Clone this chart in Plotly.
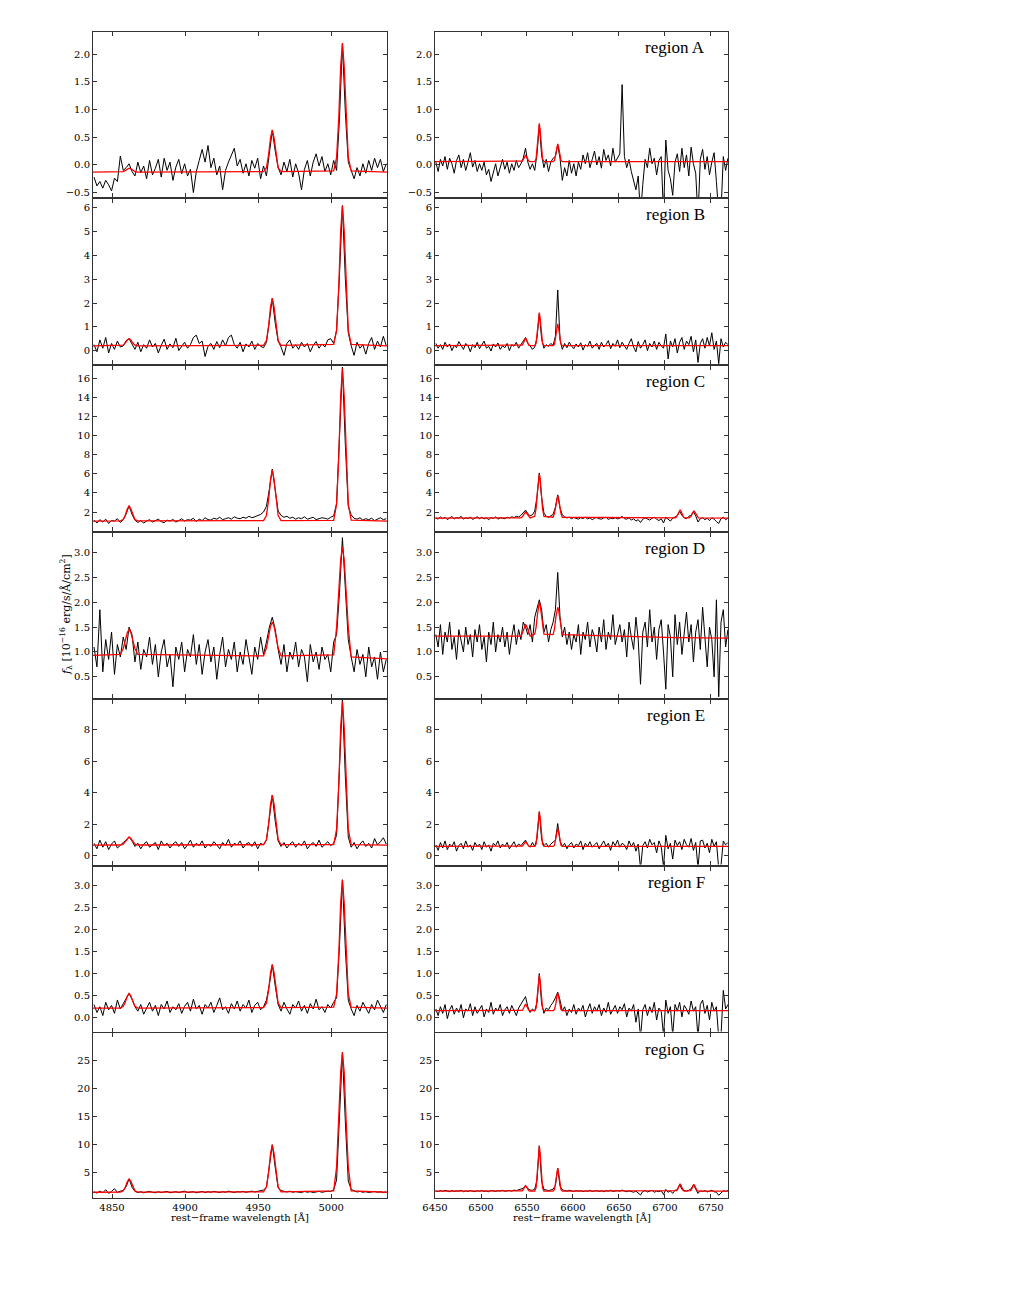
import plotly.graph_objects as go
from plotly.subplots import make_subplots

W, H = 1011, 1308
PAGE = 8  # the html body margin shifts the figure by this many pixels

# spectral pixel grids (first wavelength, step in Angstrom)
blue_start, blue_step = 4837.7, 2.0
red_start, red_step = 6450.9, 2.5

# wavelengths where the fitted model is sampled
model_wave_blue = [4837.0,
                   4855.7, 4857.7, 4859.2, 4860.5, 4861.7, 4862.9, 4864.2, 4865.7, 4867.7,
                   4953.7, 4955.7, 4957.2, 4958.5, 4959.7, 4960.9, 4962.2, 4963.7, 4965.7,
                   5001.7, 5003.7, 5005.2, 5006.5, 5007.7, 5008.9, 5010.2, 5011.7, 5013.7,
                   5038.2]
model_wave_red = [6450.0,
                  6543.4, 6544.9, 6546.4, 6547.4, 6548.4, 6549.4, 6550.4, 6551.9, 6553.4,
                  6558.4, 6559.9, 6561.4, 6562.4, 6563.4, 6564.4, 6565.4, 6566.9, 6568.4,
                  6578.4, 6579.9, 6581.4, 6582.4, 6583.4, 6584.4, 6585.4, 6586.9, 6588.4,
                  6711.4, 6712.9, 6714.4, 6715.4, 6716.4, 6717.4, 6718.4, 6719.9, 6721.4,
                  6726.4, 6727.9, 6729.4, 6730.4, 6731.4, 6732.4, 6733.4, 6734.9, 6736.4,
                  6768.5]

region_names = ["A", "B", "C", "D", "E", "F", "G"]

# ---- region A ----
flux_blue_A = [-0.22, -0.38, -0.30, -0.42, -0.28, -0.36, -0.47, -0.24, -0.30, 0.16,
               -0.10, -0.05, 0.02, -0.12, -0.20, 0.05, -0.14, -0.02, -0.25, 0.08,
               -0.18, -0.06, 0.10, -0.22, 0.12, -0.10, 0.05, -0.28, -0.04, 0.10,
               -0.16, 0.02, -0.20, -0.08, -0.50, -0.12, 0.08, 0.28, 0.05, 0.35,
               -0.05, 0.12, -0.18, -0.02, -0.45, -0.10, 0.05, 0.18, 0.30, -0.02,
               0.10, -0.15, 0.02, -0.20, 0.08, -0.06, 0.12, -0.25, -0.02, -0.20,
               0.22, 0.62, 0.25, -0.05, -0.18, 0.05, -0.12, 0.10, -0.22, 0.02,
               -0.15, -0.45, -0.08, 0.08, -0.20, 0.05, 0.20, -0.02, 0.15, -0.12,
               0.02, -0.18, 0.08, -0.10, 0.85, 2.18, 0.95, 0.05, -0.10, -0.25,
               -0.05, -0.20, 0.02, -0.15, 0.08, -0.10, 0.12, -0.05, 0.10, -0.12, 0.02]
model_blue_A = [-0.13,
                -0.13, -0.12, -0.10, -0.07, -0.06, -0.07, -0.10, -0.12, -0.13,
                -0.12, -0.05, 0.19, 0.49, 0.63, 0.49, 0.19, -0.05, -0.12,
                -0.11, 0.13, 0.85, 1.78, 2.20, 1.78, 0.85, 0.13, -0.11,
                -0.13]
flux_red_A = [0.05, -0.12, 0.10, -0.02, 0.15, -0.08, 0.12, 0.02, -0.15, 0.08,
              0.18, -0.05, 0.10, -0.10, 0.05, 0.22, -0.04, 0.08, -0.12, 0.02,
              -0.10, 0.05, -0.18, -0.08, -0.30, -0.12, 0.02, -0.20, -0.05, 0.10,
              -0.08, 0.05, -0.15, 0.02, -0.10, 0.08, -0.05, 0.02, 0.12, 0.30,
              0.05, -0.08, 0.02, -0.10, 0.20, 0.72, 0.18, -0.05, 0.10, -0.12,
              0.05, 0.12, 0.15, 0.36, 0.12, -0.28, -0.05, -0.20, 0.08, -0.15,
              0.02, -0.20, 0.05, -0.08, 0.18, 0.02, 0.22, -0.05, 0.10, 0.25,
              0.00, 0.15, -0.06, 0.28, 0.08, 0.18, -0.02, 0.30, 0.05, 0.12,
              0.20, 1.45, 0.15, -0.05, 0.10, -0.12, -0.30, -0.45, -0.20, -0.90,
              -0.35, 0.10, -0.05, 0.30, 0.02, 0.12, -0.18, 0.08, 0.15, -0.90,
              0.45, -0.10, -0.25, -0.55, 0.05, 0.20, -0.12, 0.30, -0.05, 0.18,
              -0.20, 0.32, 0.02, -0.15, -0.95, 0.10, 0.28, -0.08, 0.15, -0.18,
              0.05, 0.22, -0.30, -0.90, -0.85, 0.15, -0.10, 0.12]
model_red_A = [0.06,
               0.06, 0.07, 0.11, 0.15, 0.17, 0.15, 0.11, 0.07, 0.06,
               0.06, 0.11, 0.34, 0.61, 0.75, 0.61, 0.34, 0.11, 0.06,
               0.06, 0.08, 0.19, 0.32, 0.38, 0.32, 0.19, 0.08, 0.06,
               0.06, 0.06, 0.06, 0.06, 0.06, 0.06, 0.06, 0.06, 0.06,
               0.06, 0.06, 0.06, 0.06, 0.06, 0.06, 0.06, 0.06, 0.06,
               0.06]

# ---- region B ----
flux_blue_B = [0.25, -0.05, 0.45, 0.10, 0.55, -0.10, 0.30, 0.05, 0.40, 0.15,
               0.20, 0.42, 0.50, 0.30, 0.05, 0.35, -0.05, 0.25, 0.10, 0.45,
               0.15, 0.30, -0.10, 0.22, 0.48, 0.05, 0.28, 0.12, 0.52, 0.00,
               0.20, 0.35, 0.10, 0.25, 0.55, 0.65, 0.30, 0.40, -0.25, 0.18,
               0.30, 0.05, 0.38, 0.12, 0.45, 0.20, 0.55, 0.65, 0.25, 0.10,
               0.35, -0.05, 0.28, 0.15, 0.40, 0.05, 0.30, 0.18, 0.12, 0.35,
               1.25, 2.20, 1.15, 0.40, 0.15, -0.20, 0.30, 0.45, 0.10, 0.25,
               0.05, 0.35, 0.15, 0.30, -0.05, 0.22, 0.38, 0.10, 0.28, 0.15,
               0.45, 0.50, 0.30, 0.85, 3.20, 6.10, 3.00, 0.75, 0.20, -0.20,
               0.35, 0.10, 0.25, -0.15, 0.30, 0.55, 0.05, 0.40, 0.15, 0.60, 0.20]
model_blue_B = [0.20,
                0.20, 0.23, 0.33, 0.45, 0.50, 0.45, 0.33, 0.23, 0.20,
                0.22, 0.42, 1.04, 1.84, 2.20, 1.84, 1.04, 0.42, 0.22,
                0.26, 0.85, 2.68, 5.04, 6.10, 5.04, 2.68, 0.85, 0.26,
                0.20]
flux_red_B = [0.30, 0.10, 0.25, 0.05, 0.35, 0.15, 0.28, 0.00, 0.22, 0.12,
              0.38, 0.18, 0.05, 0.30, 0.20, -0.05, 0.25, 0.12, 0.35, 0.08,
              0.22, 0.40, 0.10, 0.18, -0.02, 0.28, 0.15, 0.32, 0.05, 0.20,
              0.12, 0.30, 0.00, 0.25, 0.18, 0.35, 0.10, 0.28, 0.40, 0.55,
              0.30, 0.20, 0.05, 0.15, 0.55, 1.55, 0.50, 0.10, 0.25, 0.18,
              0.30, 0.22, 0.60, 2.55, 0.45, 0.05, 0.30, 0.12, 0.35, 0.20,
              0.08, 0.28, 0.15, 0.33, 0.02, 0.25, 0.18, 0.40, 0.10, 0.22,
              0.30, 0.05, 0.35, 0.15, 0.25, 0.42, 0.08, 0.30, 0.18, 0.45,
              0.12, 0.35, 0.20, 0.05, 0.30, 0.50, 0.15, -0.05, 0.38, 0.10,
              0.25, 0.45, 0.00, 0.30, 0.15, 0.40, 0.05, 0.35, 0.20, 0.10,
              0.70, -0.35, 0.40, 0.15, 0.50, -0.10, 0.35, 0.55, 0.05, 0.40,
              0.25, 0.60, -0.05, 0.45, -0.50, 0.30, 0.50, 0.10, 0.55, 0.20,
              0.75, 0.05, 0.40, -0.55, 0.50, 0.15, 0.35, 0.25]
model_red_B = [0.21,
               0.21, 0.23, 0.34, 0.46, 0.52, 0.46, 0.34, 0.23, 0.21,
               0.21, 0.31, 0.78, 1.32, 1.60, 1.32, 0.78, 0.31, 0.21,
               0.21, 0.27, 0.58, 0.94, 1.12, 0.94, 0.58, 0.27, 0.21,
               0.21, 0.21, 0.21, 0.21, 0.21, 0.21, 0.21, 0.21, 0.21,
               0.21, 0.21, 0.21, 0.21, 0.21, 0.21, 0.21, 0.21, 0.21,
               0.21]

# ---- region C ----
flux_blue_C = [1.15, 0.85, 1.20, 0.95, 1.25, 0.80, 1.10, 1.05, 1.30, 0.90,
               1.20, 1.80, 2.65, 1.75, 1.15, 0.90, 1.10, 0.85, 1.05, 1.20,
               0.95, 1.10, 1.25, 1.00, 0.88, 1.15, 1.05, 1.22, 0.95, 1.10,
               1.30, 1.05, 1.20, 1.15, 1.35, 1.00, 1.25, 1.10, 1.40, 1.20,
               1.15, 1.35, 1.25, 1.45, 1.20, 1.30, 1.40, 1.25, 1.50, 1.35,
               1.30, 1.45, 1.35, 1.55, 1.40, 1.50, 1.60, 1.75, 2.00, 2.60,
               4.40, 6.50, 4.30, 2.10, 1.65, 1.45, 1.55, 1.35, 1.45, 1.25,
               1.40, 1.30, 1.50, 1.25, 1.35, 1.45, 1.20, 1.30, 1.40, 1.35,
               1.25, 1.45, 1.60, 2.90, 9.50, 17.20, 9.00, 2.60, 1.70, 1.35,
               1.25, 1.40, 1.15, 1.30, 1.20, 1.35, 1.10, 1.25, 1.40, 1.20, 1.30]
model_blue_C = [1.05,
                1.07, 1.22, 1.71, 2.35, 2.63, 2.35, 1.71, 1.22, 1.07,
                1.10, 1.64, 3.30, 5.44, 6.40, 5.44, 3.30, 1.64, 1.10,
                1.12, 2.81, 7.77, 14.17, 17.05, 14.17, 7.77, 2.81, 1.15,
                1.05]
flux_red_C = [1.40, 1.25, 1.50, 1.30, 1.45, 1.20, 1.38, 1.52, 1.28, 1.42,
              1.35, 1.55, 1.25, 1.40, 1.30, 1.48, 1.22, 1.36, 1.50, 1.30,
              1.45, 1.28, 1.38, 1.20, 1.42, 1.32, 1.50, 1.25, 1.40, 1.35,
              1.30, 1.45, 1.38, 1.50, 1.42, 1.55, 1.48, 1.65, 1.90, 2.20,
              1.85, 1.60, 1.70, 2.10, 3.60, 6.10, 3.50, 1.90, 1.55, 1.45,
              1.60, 1.75, 2.50, 3.80, 2.40, 1.70, 1.50, 1.38, 1.45, 1.30,
              1.42, 1.35, 1.25, 1.40, 1.32, 1.45, 1.28, 1.38, 1.20, 1.35,
              1.42, 1.30, 1.25, 1.38, 1.45, 1.22, 1.35, 1.30, 1.40, 1.28,
              1.35, 1.55, 1.30, 1.25, 1.40, 1.15, 1.30, 1.05, 1.20, 0.90,
              1.25, 1.40, 1.30, 1.15, 1.35, 1.45, 1.25, 1.10, 1.30, 0.85,
              1.45, 1.20, 1.05, 1.35, 1.50, 1.60, 2.10, 1.65, 1.40, 1.30,
              1.55, 1.65, 2.05, 1.60, 0.95, 1.30, 1.40, 1.20, 1.35, 1.10,
              1.40, 1.25, 1.00, 0.80, 1.30, 1.45, 1.20, 1.35]
model_red_C = [1.35,
               1.38, 1.49, 1.75, 1.92, 2.00, 1.92, 1.75, 1.49, 1.38,
               1.55, 2.37, 4.19, 5.44, 6.00, 5.44, 4.19, 2.37, 1.55,
               1.45, 1.87, 2.78, 3.42, 3.70, 3.42, 2.78, 1.87, 1.45,
               1.39, 1.54, 1.87, 2.10, 2.20, 2.10, 1.87, 1.54, 1.39,
               1.38, 1.52, 1.81, 2.01, 2.10, 2.01, 1.81, 1.52, 1.38,
               1.35]

# ---- region D ----
flux_blue_D = [1.10, 0.70, 1.85, 0.60, 1.25, 0.85, 1.40, 0.55, 1.15, 0.90,
               1.30, 1.05, 1.50, 1.35, 0.80, 1.20, 0.65, 1.05, 0.90, 1.30,
               0.75, 1.15, 0.50, 1.00, 1.25, 0.70, 0.95, 0.30, 1.10, 0.85,
               1.20, 0.60, 1.05, 0.90, 1.35, 0.75, 1.15, 0.55, 1.00, 1.25,
               0.80, 1.10, 0.45, 0.95, 1.30, 0.70, 1.05, 0.85, 1.20, 0.60,
               1.00, 0.75, 1.25, 0.90, 0.55, 1.10, 0.85, 1.30, 0.95, 1.20,
               1.50, 1.70, 1.45, 1.05, 0.75, 1.15, 0.60, 1.00, 0.85, 1.20,
               0.70, 1.05, 0.90, 0.40, 1.15, 0.80, 1.00, 0.65, 1.10, 0.85,
               0.95, 0.60, 1.20, 1.35, 2.20, 3.30, 2.30, 1.25, 0.90, 0.60,
               1.05, 0.75, 0.95, 0.50, 1.10, 0.70, 0.90, 0.45, 1.00, 0.60, 0.85]
model_blue_D = [0.93,
                0.95, 1.07, 1.24, 1.39, 1.45, 1.39, 1.24, 1.07, 0.95,
                0.92, 1.08, 1.32, 1.52, 1.60, 1.52, 1.32, 1.08, 0.92,
                0.94, 1.49, 2.23, 2.86, 3.11, 2.86, 2.23, 1.49, 0.90,
                0.86]
flux_red_D = [1.35, 1.10, 1.55, 0.95, 1.40, 1.20, 1.60, 1.05, 1.30, 0.85,
              1.45, 1.25, 1.00, 1.50, 1.15, 1.35, 0.90, 1.45, 1.20, 1.55,
              1.05, 1.30, 0.80, 1.40, 1.15, 1.60, 1.00, 1.35, 1.20, 1.50,
              1.10, 1.40, 0.95, 1.30, 1.55, 1.15, 1.45, 1.25, 1.60, 1.50,
              1.35, 1.55, 1.20, 1.70, 1.90, 2.05, 1.85, 1.40, 1.55, 1.20,
              1.45, 1.60, 1.85, 2.60, 1.70, 1.30, 1.50, 1.15, 1.40, 1.05,
              1.35, 1.20, 1.55, 0.95, 1.40, 1.25, 1.60, 1.10, 1.45, 1.30,
              1.00, 1.50, 1.20, 1.65, 1.05, 1.40, 1.25, 1.75, 1.15, 1.35,
              1.55, 1.20, 1.45, 0.90, 1.60, 1.30, 1.05, 1.70, 1.25, 0.35,
              1.40, 1.60, 1.10, 1.85, 1.20, 1.50, 0.85, 1.45, 1.65, 1.00,
              0.25, 1.55, 1.30, 0.50, 1.75, 1.15, 1.60, 0.95, 1.45, 1.80,
              1.20, 1.55, 0.80, 1.40, 1.65, 1.05, 1.90, 1.30, 0.70, 1.50,
              1.25, 0.50, 2.05, 0.10, 1.60, 1.85, 1.10, 1.45]
model_red_D = [1.32,
               1.32, 1.37, 1.47, 1.53, 1.55, 1.53, 1.47, 1.37, 1.32,
               1.36, 1.50, 1.76, 1.93, 2.00, 1.93, 1.76, 1.50, 1.36,
               1.35, 1.47, 1.70, 1.84, 1.90, 1.84, 1.70, 1.47, 1.35,
               1.29, 1.29, 1.29, 1.29, 1.29, 1.29, 1.29, 1.29, 1.29,
               1.29, 1.29, 1.29, 1.29, 1.29, 1.29, 1.29, 1.29, 1.29,
               1.28]

# ---- region E ----
flux_blue_E = [0.80, 0.45, 1.00, 0.55, 0.90, 0.40, 0.75, 0.95, 0.50, 0.70,
               0.85, 1.00, 1.20, 0.95, 0.60, 0.80, 0.45, 0.75, 0.90, 0.55,
               0.70, 0.85, 0.40, 0.95, 0.65, 0.80, 0.50, 0.75, 0.90, 0.60,
               0.85, 0.45, 0.70, 1.00, 0.55, 0.80, 0.65, 0.95, 0.50, 0.75,
               0.60, 0.90, 0.70, 0.45, 0.85, 0.65, 1.05, 0.55, 0.80, 0.70,
               0.95, 0.50, 0.75, 0.85, 0.60, 0.90, 0.45, 0.80, 0.70, 1.00,
               2.40, 3.85, 2.20, 0.95, 0.60, 0.85, 0.50, 0.75, 0.90, 0.55,
               0.80, 0.65, 0.95, 0.45, 0.70, 0.85, 0.60, 1.00, 0.55, 0.75,
               0.90, 0.65, 0.80, 1.30, 5.20, 9.90, 5.00, 1.20, 0.55, 0.85,
               0.45, 0.75, 0.95, 0.60, 0.80, 0.50, 1.10, 0.70, 0.90, 1.15, 0.75]
model_blue_E = [0.68,
                0.69, 0.74, 0.90, 1.11, 1.20, 1.11, 0.90, 0.74, 0.69,
                0.71, 1.03, 2.01, 3.28, 3.85, 3.28, 2.01, 1.03, 0.71,
                0.72, 1.68, 4.50, 8.14, 9.78, 8.14, 4.50, 1.68, 0.72,
                0.68]
flux_red_E = [0.70, 0.35, 0.85, 0.50, 0.95, 0.40, 0.75, 0.60, 0.90, 0.30,
              0.65, 0.80, 0.45, 0.95, 0.55, 0.70, 0.35, 0.85, 0.60, 0.75,
              0.40, 0.90, 0.55, 0.70, 0.30, 0.80, 0.65, 0.95, 0.50, 0.75,
              0.60, 0.85, 0.45, 0.70, 0.90, 0.55, 0.75, 0.65, 0.80, 1.00,
              0.70, 0.55, 0.85, 0.60, 1.10, 2.80, 1.05, 0.65, 0.80, 0.55,
              0.75, 0.90, 1.00, 2.05, 0.95, 0.60, 0.80, 0.45, 0.70, 0.85,
              0.50, 0.75, 0.65, 0.95, 0.40, 0.80, 0.60, 0.90, 0.55, 0.70,
              0.85, 0.45, 0.75, 0.95, 0.60, 0.80, 0.35, 0.90, 0.65, 1.00,
              0.55, 0.80, 0.70, 0.40, 0.95, 0.60, 0.85, 0.30, 0.75, -0.80,
              0.65, 0.90, 0.50, 1.05, 0.70, 0.85, 0.20, 0.95, 0.60, -0.70,
              1.30, 0.45, 0.80, -0.20, 1.00, 0.65, 0.90, 0.40, 1.05, 0.70,
              0.55, 1.10, 0.35, 0.85, -0.75, 0.95, 1.00, 0.50, 0.80, 0.20,
              1.05, 0.60, 0.90, -0.80, -0.60, 0.95, 0.70, 0.85]
model_red_E = [0.60,
               0.60, 0.62, 0.72, 0.84, 0.90, 0.84, 0.72, 0.62, 0.60,
               0.60, 0.75, 1.50, 2.36, 2.80, 2.36, 1.50, 0.75, 0.60,
               0.60, 0.68, 1.07, 1.52, 1.75, 1.52, 1.07, 0.68, 0.60,
               0.60, 0.60, 0.60, 0.60, 0.60, 0.60, 0.60, 0.60, 0.60,
               0.60, 0.60, 0.60, 0.60, 0.60, 0.60, 0.60, 0.60, 0.60,
               0.60]

# ---- region F ----
flux_blue_F = [0.30, 0.12, 0.25, 0.05, 0.35, 0.18, 0.28, 0.10, 0.40, 0.20,
               0.32, 0.45, 0.55, 0.42, 0.25, 0.15, 0.30, 0.08, 0.22, 0.35,
               0.15, 0.28, 0.05, 0.30, 0.20, 0.38, 0.12, 0.25, 0.18, 0.32,
               0.10, 0.26, 0.35, 0.15, 0.42, 0.20, 0.28, 0.08, 0.30, 0.22,
               0.35, 0.12, 0.28, 0.45, 0.18, 0.25, 0.10, 0.32, 0.20, 0.38,
               0.15, 0.30, 0.22, 0.40, 0.12, 0.28, 0.35, 0.18, 0.25, 0.40,
               0.75, 1.20, 0.72, 0.30, 0.15, 0.35, 0.20, 0.08, 0.30, 0.22,
               0.38, 0.15, 0.28, 0.10, 0.32, 0.20, 0.42, 0.18, 0.25, 0.12,
               0.30, 0.22, 0.35, 0.45, 1.65, 3.12, 1.55, 0.40, 0.20, 0.05,
               0.28, 0.15, 0.35, 0.22, 0.10, 0.30, 0.18, 0.40, 0.25, 0.12, 0.30]
model_blue_F = [0.22,
                0.22, 0.26, 0.36, 0.49, 0.55, 0.49, 0.36, 0.26, 0.22,
                0.23, 0.33, 0.63, 1.02, 1.20, 1.02, 0.63, 0.33, 0.23,
                0.24, 0.54, 1.44, 2.60, 3.12, 2.60, 1.44, 0.54, 0.24,
                0.22]
flux_red_F = [0.20, 0.05, 0.25, 0.10, 0.30, -0.02, 0.18, 0.28, 0.08, 0.22,
              0.12, 0.30, 0.00, 0.20, 0.15, 0.32, 0.05, 0.25, 0.10, 0.18,
              0.28, 0.02, 0.20, 0.12, 0.35, 0.08, 0.22, 0.15, 0.30, 0.05,
              0.18, 0.25, 0.10, 0.28, 0.15, 0.05, 0.22, 0.30, 0.38, 0.48,
              0.25, 0.12, 0.20, 0.15, 0.35, 1.00, 0.32, 0.10, 0.22, 0.18,
              0.28, 0.35, 0.45, 0.58, 0.40, 0.15, 0.25, 0.05, 0.20, 0.12,
              0.30, 0.08, 0.22, 0.15, 0.28, 0.02, 0.18, 0.32, 0.10, 0.25,
              0.15, 0.30, 0.05, 0.22, 0.12, 0.35, 0.08, 0.20, 0.28, 0.10,
              0.25, 0.18, 0.32, 0.02, 0.22, 0.15, 0.30, -0.10, 0.20, -0.45,
              0.18, 0.30, 0.05, 0.25, 0.12, 0.35, -0.05, 0.22, 0.15, -0.40,
              0.40, 0.10, 0.25, -0.40, 0.30, 0.15, 0.35, 0.02, 0.28, 0.20,
              0.08, 0.38, 0.15, 0.25, -0.45, 0.30, 0.40, 0.10, 0.28, -0.05,
              0.35, 0.15, 0.25, -0.45, -0.40, 0.62, 0.20, 0.30]
model_red_F = [0.16,
               0.16, 0.17, 0.22, 0.28, 0.31, 0.28, 0.22, 0.17, 0.16,
               0.16, 0.22, 0.49, 0.81, 0.97, 0.81, 0.49, 0.22, 0.16,
               0.16, 0.19, 0.32, 0.48, 0.56, 0.48, 0.32, 0.19, 0.16,
               0.16, 0.16, 0.16, 0.16, 0.16, 0.16, 0.16, 0.16, 0.16,
               0.16, 0.16, 0.16, 0.16, 0.16, 0.16, 0.16, 0.16, 0.16,
               0.16]

# ---- region G ----
flux_blue_G = [1.45, 1.25, 1.60, 1.30, 1.85, 1.20, 1.55, 2.05, 1.35, 1.60,
               1.70, 2.40, 3.80, 2.30, 1.55, 1.35, 1.50, 1.30, 1.45, 1.55,
               1.40, 1.30, 1.50, 1.35, 1.45, 1.55, 1.30, 1.40, 1.50, 1.35,
               1.45, 1.60, 1.35, 1.40, 1.50, 1.30, 1.45, 1.55, 1.35, 1.50,
               1.40, 1.55, 1.45, 1.35, 1.50, 1.40, 1.60, 1.45, 1.35, 1.50,
               1.45, 1.55, 1.40, 1.50, 1.60, 1.45, 1.55, 1.65, 1.80, 2.30,
               6.00, 9.90, 5.80, 2.20, 1.70, 1.55, 1.45, 1.60, 1.40, 1.50,
               1.45, 1.35, 1.55, 1.40, 1.50, 1.35, 1.45, 1.55, 1.40, 1.50,
               1.60, 1.55, 1.85, 3.60, 14.50, 26.40, 14.00, 3.40, 1.90, 1.60,
               1.45, 1.55, 1.40, 1.50, 1.35, 1.45, 1.55, 1.40, 1.50, 1.35, 1.45]
model_blue_G = [1.40,
                1.42, 1.66, 2.39, 3.33, 3.75, 3.33, 2.39, 1.66, 1.42,
                1.48, 2.33, 4.95, 8.33, 9.85, 8.33, 4.95, 2.33, 1.48,
                1.65, 5.90, 14.40, 22.90, 26.40, 22.90, 14.40, 5.90, 1.65,
                1.40]
flux_red_G = [1.65, 1.50, 1.70, 1.55, 1.75, 1.60, 1.50, 1.70, 1.55, 1.65,
              1.60, 1.75, 1.50, 1.65, 1.55, 1.70, 1.60, 1.50, 1.68, 1.58,
              1.70, 1.55, 1.62, 1.50, 1.72, 1.60, 1.55, 1.68, 1.62, 1.75,
              1.58, 1.65, 1.72, 1.60, 1.80, 1.70, 1.85, 1.95, 2.10, 2.60,
              2.05, 1.80, 1.75, 1.95, 3.60, 9.70, 3.40, 1.90, 1.75, 1.70,
              1.80, 1.95, 2.60, 5.70, 2.50, 1.85, 1.70, 1.60, 1.75, 1.62,
              1.55, 1.70, 1.60, 1.68, 1.50, 1.65, 1.58, 1.72, 1.55, 1.62,
              1.70, 1.55, 1.65, 1.50, 1.68, 1.60, 1.75, 1.55, 1.62, 1.70,
              1.58, 1.80, 1.60, 1.50, 1.65, 1.55, 1.40, 1.60, 1.30, 0.90,
              1.55, 1.70, 1.45, 1.62, 1.75, 1.40, 1.60, 1.50, 1.70, 1.00,
              1.90, 1.40, 1.65, 1.20, 1.75, 1.85, 2.80, 1.90, 1.70, 1.60,
              1.75, 2.00, 2.75, 1.95, 1.20, 1.65, 1.55, 1.70, 1.45, 1.60,
              1.75, 1.50, 1.40, 0.85, 1.30, 1.65, 1.55, 1.70]
model_red_G = [1.60,
               1.60, 1.67, 2.01, 2.40, 2.60, 2.40, 2.01, 1.67, 1.60,
               1.60, 2.17, 4.92, 8.08, 9.70, 8.08, 4.92, 2.17, 1.60,
               1.60, 1.89, 3.28, 4.88, 5.70, 4.88, 3.28, 1.89, 1.60,
               1.60, 1.69, 2.13, 2.64, 2.90, 2.64, 2.13, 1.69, 1.60,
               1.60, 1.68, 2.09, 2.56, 2.80, 2.56, 2.09, 1.68, 1.60,
               1.60]

panels = [
    (flux_blue_A, model_blue_A, flux_red_A, model_red_A),
    (flux_blue_B, model_blue_B, flux_red_B, model_red_B),
    (flux_blue_C, model_blue_C, flux_red_C, model_red_C),
    (flux_blue_D, model_blue_D, flux_red_D, model_red_D),
    (flux_blue_E, model_blue_E, flux_red_E, model_red_E),
    (flux_blue_F, model_blue_F, flux_red_F, model_red_F),
    (flux_blue_G, model_blue_G, flux_red_G, model_red_G),
]

y_ranges = [[-0.58, 2.4], [-0.56, 6.38], [0.03, 17.34], [0.08, 3.4],
            [-0.55, 9.9], [-0.31, 3.42], [0.3, 29.8]]
y_dticks = [0.5, 1, 2, 0.5, 2, 0.5, 5]
y_formats = [".1f", "d", "d", ".1f", "d", ".1f", "d"]

x_range_blue = [4837.0, 5038.2]
x_range_red = [6450.0, 6768.5]


def px_x(x):
    return (x - PAGE) / W


def px_y(y):
    return 1 - (y - PAGE) / H


fig = make_subplots(rows=7, cols=2)

tick_font = dict(family="DejaVu Serif", size=10, color="black")
frame = dict(showline=True, mirror="ticks", linecolor="#333", linewidth=1,
             ticks="inside", ticklen=4, tickcolor="#333", showgrid=False,
             zeroline=False, tickfont=tick_font, automargin=False)

annotations = []
for r, (fb, mb, fr, mr) in enumerate(panels):
    top = 32 + r * 166.9
    bottom = top + 165
    ydom = [px_y(bottom), px_y(top)]

    wave_b = [blue_start + blue_step * i for i in range(len(fb))]
    wave_r = [red_start + red_step * i for i in range(len(fr))]

    fig.add_trace(go.Scatter(x=wave_b, y=fb, mode="lines",
                             line=dict(color="black", width=1)), row=r + 1, col=1)
    fig.add_trace(go.Scatter(x=model_wave_blue, y=mb, mode="lines",
                             line=dict(color="red", width=1.3)), row=r + 1, col=1)
    fig.add_trace(go.Scatter(x=wave_r, y=fr, mode="lines",
                             line=dict(color="black", width=1)), row=r + 1, col=2)
    fig.add_trace(go.Scatter(x=model_wave_red, y=mr, mode="lines",
                             line=dict(color="red", width=1.3)), row=r + 1, col=2)

    last = r == len(panels) - 1
    fig.update_xaxes(domain=[px_x(93), px_x(387)], range=x_range_blue, tick0=4850, dtick=50,
                     showticklabels=last, row=r + 1, col=1, **frame)
    fig.update_xaxes(domain=[px_x(435), px_x(728)], range=x_range_red, tick0=6450, dtick=50,
                     showticklabels=last, row=r + 1, col=2, **frame)
    for c in (1, 2):
        fig.update_yaxes(domain=ydom, range=y_ranges[r], tick0=0, dtick=y_dticks[r],
                         tickformat=y_formats[r], row=r + 1, col=c, **frame)

    annotations.append(dict(
        text="region " + region_names[r], x=px_x(707), y=px_y(top + 16),
        xref="paper", yref="paper", xanchor="right", yanchor="middle", showarrow=False,
        font=dict(family="Liberation Serif", size=17, color="black")))

label_font = dict(family="DejaVu Serif", size=10, color="black")
for xc in ((93 + 387) / 2, (435 + 728) / 2):
    annotations.append(dict(
        text="rest\u2212frame wavelength [Å]", x=px_x(xc), y=px_y(1217),
        xref="paper", yref="paper", xanchor="center", yanchor="middle",
        showarrow=False, font=label_font))
annotations.append(dict(
    text="<i>f</i><sub>λ</sub> [10<sup>\u221216</sup> erg/s/Å/cm<sup>2</sup>]",
    x=px_x(66), y=px_y(615), xref="paper", yref="paper", xanchor="center",
    yanchor="middle", textangle=-90, showarrow=False,
    font=dict(family="DejaVu Serif", size=11, color="black")))

fig.update_layout(
    width=W, height=H,
    margin=dict(l=0, r=0, t=0, b=0, pad=0),
    paper_bgcolor="white", plot_bgcolor="white",
    showlegend=False,
    annotations=annotations,
)

fig.write_html("out.html")
